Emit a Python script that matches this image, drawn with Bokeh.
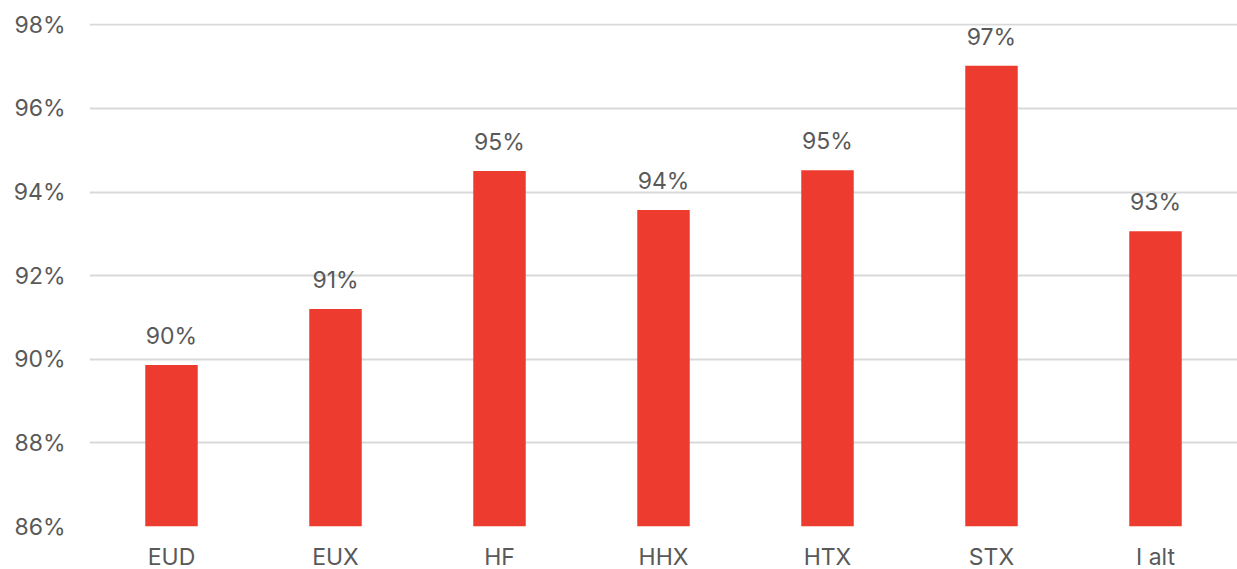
from bokeh.plotting import figure
from bokeh.models import ColumnDataSource, FixedTicker, LabelSet
from bokeh.embed import file_html
from bokeh.resources import INLINE
from bokeh.core.properties import value

categories = ["EUD", "EUX", "HF", "HHX", "HTX", "STX", "I alt"]
values = [89.86, 91.2, 94.5, 93.57, 94.52, 97.02, 93.06]
labels = ["90%", "91%", "95%", "94%", "95%", "97%", "93%"]
y_ticks = [86, 88, 90, 92, 94, 96, 98]

FONT = "Inter"
GREY = "#595959"

src = ColumnDataSource(dict(cat=categories, val=values, lab=labels))

p = figure(x_range=categories, y_range=(86, 98.03), output_backend="svg",
           toolbar_location=None, frame_width=1148, frame_height=503,
           min_border_left=89, min_border_top=23, min_border_right=0,
           min_border_bottom=30, outline_line_color=None,
           background_fill_color="white", border_fill_color="white")

p.vbar(x="cat", top="val", bottom=86, width=0.32, source=src,
       fill_color="#EE3B2F", line_color=None)

p.add_layout(LabelSet(x="cat", y="val", text="lab", source=src,
                      text_align="center", text_baseline="bottom",
                      y_offset=15, text_color=GREY, text_font=value(FONT),
                      text_font_size="23px"))

p.yaxis.ticker = FixedTicker(ticks=y_ticks)
p.yaxis.major_label_overrides = {t: f"{t}%" for t in y_ticks}
for ax in (p.xaxis, p.yaxis):
    ax.axis_line_color = None
    ax.major_tick_line_color = None
    ax.minor_tick_line_color = None
    ax.major_label_text_color = GREY
    ax.major_label_text_font = FONT
    ax.major_label_text_font_size = "23px"
p.yaxis.major_label_standoff = 18
p.xaxis.major_label_standoff = 10

p.xgrid.grid_line_color = None
p.ygrid.grid_line_color = "#d9d9d9"
p.ygrid.grid_line_width = 2

open("out.html", "w").write(file_html(p, INLINE))
